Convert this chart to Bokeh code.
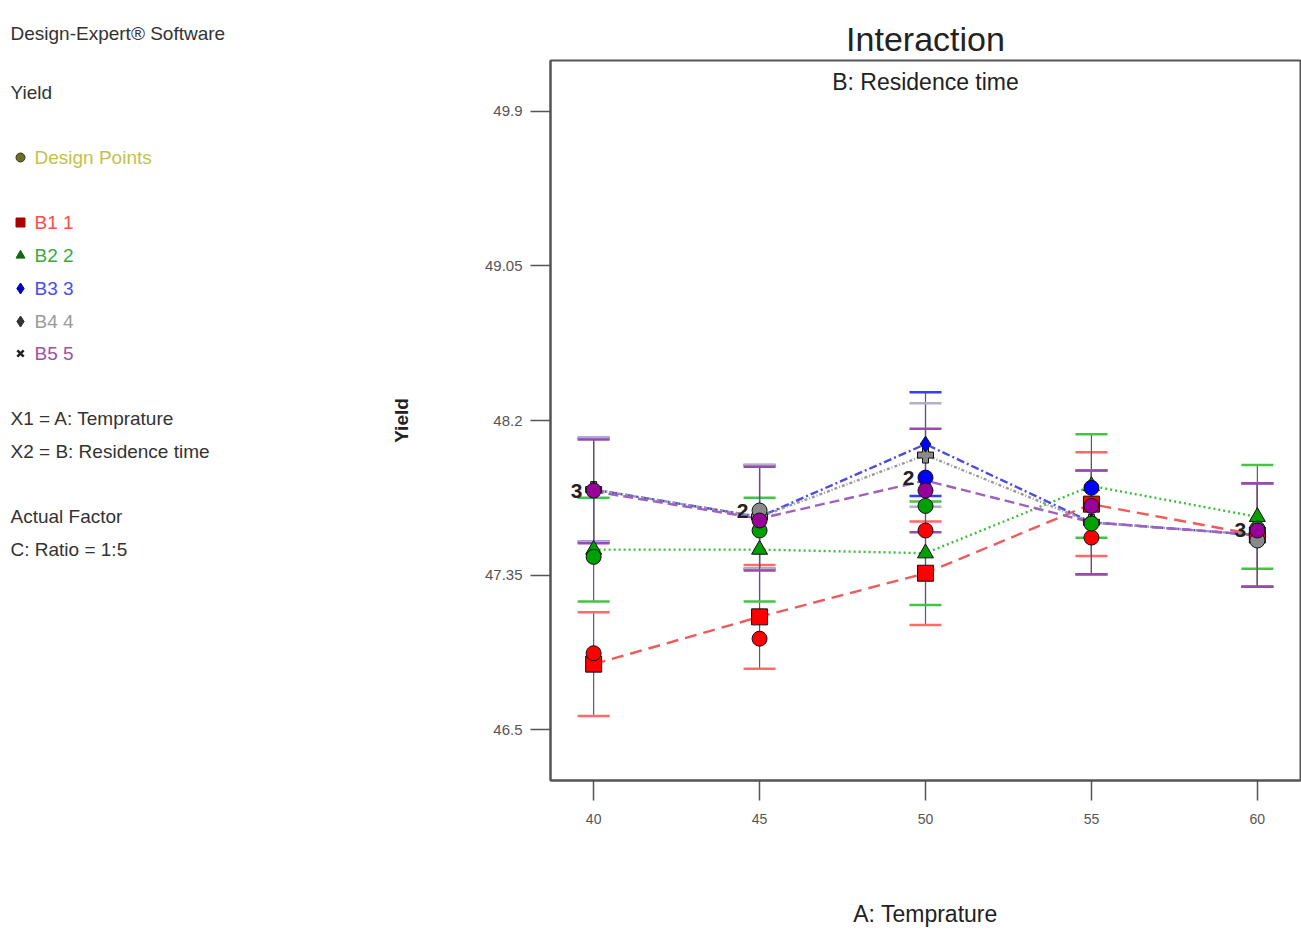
from bokeh.plotting import figure
from bokeh.layouts import row
from bokeh.models import Range1d, FixedTicker, Whisker, TeeHead, ColumnDataSource, Label
from bokeh.core.properties import value
from bokeh.embed import file_html
from bokeh.resources import INLINE

# ---- data -------------------------------------------------------------
temps = [40, 45, 50, 55, 60]

# predicted mean yield for each residence-time level
b1_mean = [46.86, 47.12, 47.36, 47.74, 47.57]
b2_mean = [47.49, 47.49, 47.47, 47.84, 47.67]
b3_mean = [47.82, 47.67, 48.07, 47.64, 47.57]
b4_mean = [47.82, 47.67, 48.01, 47.64, 47.57]
b5_mean = [47.81, 47.66, 47.87, 47.64, 47.57]
lsd_half = 0.285  # half width of the LSD bars

# design points
dp_temp = [40, 40, 40, 45, 45, 45, 45, 50, 50, 50, 50, 55, 55, 55, 55, 60, 60, 60]
dp_yield = [46.92, 47.45, 47.815, 47.0, 47.595, 47.705, 47.65, 47.595, 47.73,
            47.886, 47.815, 47.556, 47.633, 47.83, 47.73, 47.54, 47.606, 47.595]
dp_group = ["B1", "B2", "B5", "B1", "B2", "B4", "B5", "B1", "B2",
            "B3", "B5", "B1", "B2", "B3", "B5", "B4", "B2", "B5"]

# replicate counts printed beside coincident points
count_temp = [40, 45, 50, 60]
count_yield = [47.815, 47.705, 47.886, 47.60]
count_text = ["3", "2", "2", "3"]

y_ticks = [46.5, 47.35, 48.2, 49.05, 49.9]
y_tick_labels = ["46.5", "47.35", "48.2", "49.05", "49.9"]

series_names = ["B1", "B2", "B3", "B4", "B5"]
series_labels = ["B1 1", "B2 2", "B3 3", "B4 4", "B5 5"]
series_means = [b1_mean, b2_mean, b3_mean, b4_mean, b5_mean]

# ---- styling ------------------------------------------------------------
FONT = "Liberation Sans"
line_colors = {"B1": "#f05a5a", "B2": "#3cbf3c", "B3": "#4a4ae6", "B4": "#9a9a9a", "B5": "#a060c0"}
bar_colors = {"B1": "#ff6a6a", "B2": "#44c444", "B3": "#3a3aff", "B4": "#b0b0c8", "B5": "#9a4aa8"}
fill_colors = {"B1": "#ff0000", "B2": "#00a000", "B3": "#0000ff", "B4": "#8a8a8a", "B5": "#990099"}
text_colors = {"B1": "#ff4a4a", "B2": "#3aaa3a", "B3": "#4a4aee", "B4": "#9a9a9a", "B5": "#a050a8"}
symbol_colors = {"B1": "#aa0000", "B2": "#116611", "B3": "#0000cc", "B4": "#333333", "B5": "#222222"}
legend_markers = {"B1": "square", "B2": "triangle", "B3": "diamond", "B4": "diamond", "B5": "x"}
dashes = {"B1": "12 7", "B2": "2 3", "B3": "8 3 2 3", "B4": "3 2 1 2", "B5": "10 5"}
markers = {"B1": "square", "B2": "triangle", "B3": "diamond", "B4": "plus", "B5": "x"}

TOP, BOTTOM = 60, 155          # border sizes shared by both panels
FRAME_H = 935 - TOP - BOTTOM   # 720

# ---- interaction plot -----------------------------------------------------
p = figure(frame_width=750, frame_height=FRAME_H,
           x_range=Range1d(38.7, 61.3), y_range=Range1d(46.22, 50.18),
           output_backend="svg", toolbar_location=None,
           min_border_left=170, min_border_right=1,
           min_border_top=TOP, min_border_bottom=BOTTOM,
           title="Interaction")
p.title.align = "center"
p.title.text_font = FONT
p.title.text_font_size = "34px"
p.title.text_font_style = "normal"
p.title.text_color = "#222222"
p.title.offset = 0
p.title.standoff = 6
p.grid.visible = False
p.outline_line_color = "#555555"
p.outline_line_width = 2

p.xaxis.ticker = FixedTicker(ticks=temps)
p.yaxis.ticker = FixedTicker(ticks=y_ticks)
p.yaxis.major_label_overrides = dict(zip(y_ticks, y_tick_labels))
for ax in (p.xaxis, p.yaxis):
    ax.major_tick_out = 20
    ax.major_tick_in = 0
    ax.minor_tick_line_color = None
    ax.axis_line_color = "#555555"
    ax.axis_line_width = 2
    ax.major_tick_line_color = "#555555"
    ax.major_tick_line_width = 1.5
    ax.major_label_text_font = FONT
    ax.major_label_text_color = "#555555"
    ax.major_label_standoff = 8
p.xaxis.major_label_standoff = 13
p.xaxis.major_label_text_font_size = "14px"
p.yaxis.major_label_text_font_size = "15px"

p.xaxis.axis_label = "A: Temprature"
p.xaxis.axis_label_text_font = FONT
p.xaxis.axis_label_text_font_size = "23px"
p.xaxis.axis_label_text_font_style = "normal"
p.xaxis.axis_label_text_color = "#222222"
p.xaxis.axis_label_standoff = 74

p.yaxis.axis_label = "Yield"
p.yaxis.axis_label_text_font = FONT
p.yaxis.axis_label_text_font_size = "19px"
p.yaxis.axis_label_text_font_style = "bold"
p.yaxis.axis_label_text_color = "#222222"
p.yaxis.axis_label_standoff = 70

p.add_layout(Label(x=50, y=50.06, text="B: Residence time", text_font=FONT,
                   text_font_size="23px", text_align="center", text_baseline="middle",
                   text_color="#222222"))

# LSD bars
for name, means in zip(series_names, series_means):
    src = ColumnDataSource(dict(x=temps,
                                upper=[m + lsd_half for m in means],
                                lower=[m - lsd_half for m in means]))
    c = bar_colors[name]
    p.add_layout(Whisker(source=src, base="x", upper="upper", lower="lower",
                         line_color="#6a4f78", line_width=1.2,
                         upper_head=TeeHead(size=32, line_color=c, line_width=2.5),
                         lower_head=TeeHead(size=32, line_color=c, line_width=2.5)))

# interaction lines
for name, means in zip(series_names, series_means):
    p.line(temps, means, line_color=line_colors[name], line_width=2.4,
           line_dash=dashes[name])

# predicted means
for name, means in zip(reversed(series_names), reversed(series_means)):
    if markers[name] == "x":
        p.scatter(temps, means, marker="x", size=14, line_color=fill_colors[name], line_width=3)
    else:
        p.scatter(temps, means, marker=markers[name], size=16,
                  fill_color=fill_colors[name], line_color="#111111", line_width=1)

# design points
dp_src = ColumnDataSource(dict(x=dp_temp, y=dp_yield,
                               c=[fill_colors[g] for g in dp_group]))
p.scatter("x", "y", source=dp_src, marker="circle", size=15,
          fill_color="c", line_color="#111111", line_width=1)

p.text(count_temp, count_yield, text=count_text, x_offset=-17,
       text_font=value(FONT), text_font_size="21px", text_font_style="bold",
       text_color="#222222", text_align="center", text_baseline="middle")

# ---- information panel (coordinates are page pixels, y from the top) -------
info = figure(width=380, frame_height=FRAME_H,
              x_range=Range1d(0, 380), y_range=Range1d(TOP + FRAME_H, TOP),
              output_backend="svg", toolbar_location=None,
              min_border_left=0, min_border_right=0,
              min_border_top=TOP, min_border_bottom=BOTTOM,
              x_axis_type=None, y_axis_type=None,
              title="Design-Expert® Software")
info.grid.visible = False
info.outline_line_color = None
info.title.align = "left"
info.title.offset = 10
info.title.standoff = 33
info.title.text_font = FONT
info.title.text_font_size = "19px"
info.title.text_font_style = "normal"
info.title.text_color = "#333333"

plain_rows = [("Yield", 92), ("X1 = A: Temprature", 418), ("X2 = B: Residence time", 451),
              ("Actual Factor", 516), ("C: Ratio = 1:5", 549)]
info.text([10] * len(plain_rows), [r[1] for r in plain_rows], text=[r[0] for r in plain_rows],
          text_color="#333333", text_font=value(FONT), text_font_size="19px",
          text_baseline="middle", text_align="left")

key_texts = ["Design Points"] + series_labels
key_colors = ["#c2c24a"] + [text_colors[n] for n in series_names]
key_ys = [157, 222, 255, 288, 321, 353]
info.text([34] * len(key_texts), key_ys, text=key_texts, text_color=key_colors,
          text_font=value(FONT), text_font_size="19px",
          text_baseline="middle", text_align="left")

# key symbols
info.scatter([20], [key_ys[0]], marker="circle", size=9, fill_color="#6b6b2a", line_color="#3a3a10")
for name, yy in zip(series_names, key_ys[1:]):
    m = legend_markers[name]
    if m == "x":
        info.scatter([20], [yy], marker="x", size=9, line_color=symbol_colors[name], line_width=2.5)
    else:
        info.scatter([20], [yy], marker=m, size=11 if m == "diamond" else 9,
                     fill_color=symbol_colors[name], line_color=symbol_colors[name])

open("out.html", "w").write(file_html(row(info, p), INLINE))
